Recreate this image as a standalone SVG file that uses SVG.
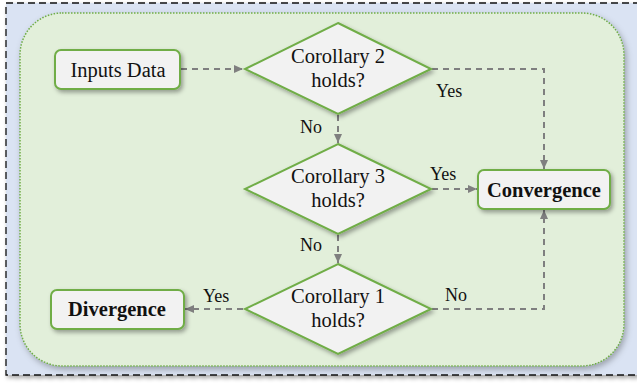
<svg xmlns="http://www.w3.org/2000/svg" width="637" height="386" viewBox="0 0 637 386">
<defs>
<filter id="sh" x="-10%" y="-10%" width="130%" height="130%">
<feDropShadow dx="2" dy="2.5" stdDeviation="2" flood-color="#000" flood-opacity="0.35"/>
</filter>
<filter id="sh2" x="-5%" y="-5%" width="115%" height="115%">
<feDropShadow dx="2" dy="3" stdDeviation="3" flood-color="#000" flood-opacity="0.3"/>
</filter>
<marker id="ah" markerWidth="10" markerHeight="10" refX="9" refY="5" orient="auto" markerUnits="userSpaceOnUse">
<path d="M0,1 L9,5 L0,9 Z" fill="#7f7f7f"/>
</marker>
</defs>
<style>
.box{fill:#f2f2f2;stroke:#70ad47;stroke-width:2}
.dia{fill:#f2f2f2;stroke:#70ad47;stroke-width:2}
.t{font-family:"Liberation Serif","Times New Roman",serif;font-size:20.5px;fill:#111;text-anchor:middle}
.b{font-weight:bold}
.lbl{font-family:"Liberation Serif","Times New Roman",serif;font-size:18px;fill:#111}
.c{fill:none;stroke:#7f7f7f;stroke-width:2;stroke-dasharray:6,5}
</style>
<rect x="0" y="0" width="637" height="386" fill="#ffffff"/>
<rect x="6" y="3" width="640" height="372" fill="#dae3f3" stroke="#111" stroke-width="1.3" stroke-dasharray="7,4" filter="url(#sh)"/>
<rect x="20" y="13" width="604" height="353" rx="42" ry="42" fill="#e2efda" stroke="#70ad47" stroke-width="1.5" stroke-dasharray="1.5,1.5" filter="url(#sh2)"/>
<g id="connectors">
<line class="c" x1="181" y1="69" x2="243" y2="69" marker-end="url(#ah)"/>
<polyline class="c" points="432,69 544,69 544,169" marker-end="url(#ah)"/>
<line class="c" x1="338" y1="115" x2="338" y2="143" marker-end="url(#ah)"/>
<line class="c" x1="432" y1="189" x2="477" y2="189" marker-end="url(#ah)"/>
<line class="c" x1="338" y1="235" x2="338" y2="263" marker-end="url(#ah)"/>
<line class="c" x1="243" y1="309" x2="185" y2="309" marker-end="url(#ah)"/>
<polyline class="c" points="432,309 544,309 544,210" marker-end="url(#ah)"/>
<text class="lbl" x="436" y="97">Yes</text>
<text class="lbl" x="300" y="133">No</text>
<text class="lbl" x="430" y="180">Yes</text>
<text class="lbl" x="300" y="251">No</text>
<text class="lbl" x="203" y="302">Yes</text>
<text class="lbl" x="445" y="301">No</text>
</g>
<g id="inputs">
<rect class="box" x="55" y="50" width="125" height="39" rx="6" filter="url(#sh)"/>
<text class="t" x="118" y="77">Inputs Data</text>
</g>
<g id="cor2">
<polygon class="dia" points="338,23 431,69 338,114 245,69" filter="url(#sh)"/>
<text class="t" x="338" y="63">Corollary 2</text>
<text class="t" x="338" y="87">holds?</text>
</g>
<g id="cor3">
<polygon class="dia" points="338,144 431,189 338,234 245,189" filter="url(#sh)"/>
<text class="t" x="338" y="183">Corollary 3</text>
<text class="t" x="338" y="207">holds?</text>
</g>
<g id="cor1">
<polygon class="dia" points="338,264 431,309 338,354 245,309" filter="url(#sh)"/>
<text class="t" x="338" y="303">Corollary 1</text>
<text class="t" x="338" y="327">holds?</text>
</g>
<g id="convergence">
<rect class="box" x="478" y="170" width="132" height="39" rx="6" filter="url(#sh)"/>
<text class="t b" x="544" y="197">Convergence</text>
</g>
<g id="divergence">
<rect class="box" x="51" y="290" width="133" height="39" rx="6" filter="url(#sh)"/>
<text class="t b" x="117" y="316">Divergence</text>
</g>
</svg>
